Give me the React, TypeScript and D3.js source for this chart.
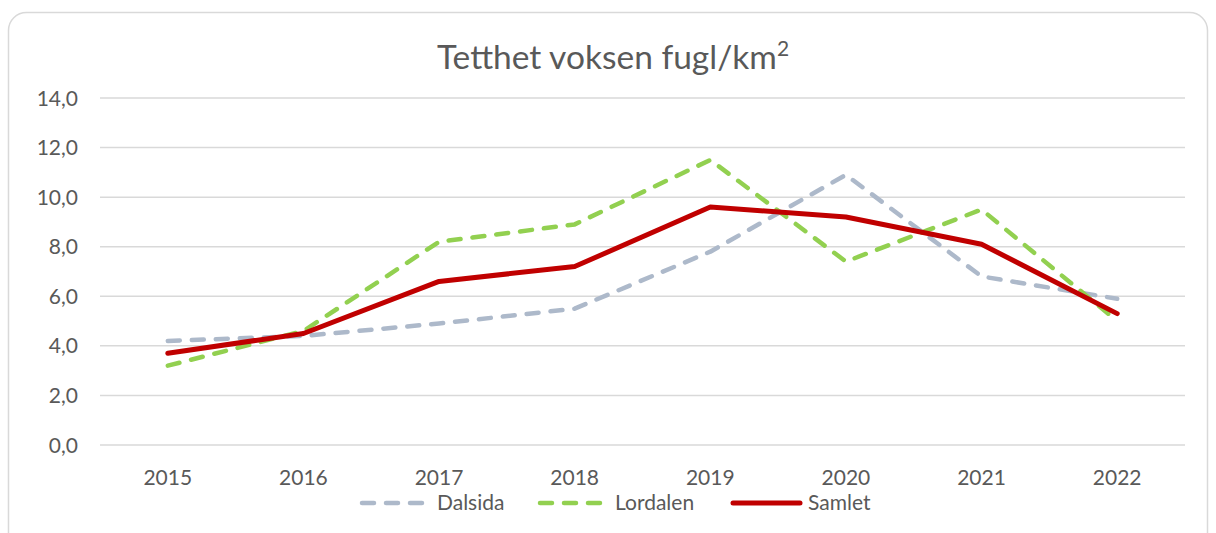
import * as d3 from "d3";
import { useEffect, useRef } from "react";

// data
const years = ["2015", "2016", "2017", "2018", "2019", "2020", "2021", "2022"];
const dalsida = [4.2, 4.4, 4.9, 5.5, 7.8, 10.9, 6.8, 5.9];
const lordalen = [3.2, 4.6, 8.2, 8.9, 11.5, 7.4, 9.5, 5.0];
const samlet = [3.7, 4.5, 6.6, 7.2, 9.6, 9.2, 8.1, 5.3];
const yTicks = [0, 2, 4, 6, 8, 10, 12, 14];

const seriesList = [
  { name: "Dalsida", values: dalsida, color: "#adb9ca", dash: "12 12", width: 4.5 },
  { name: "Lordalen", values: lordalen, color: "#92d050", dash: "12 12", width: 4.5 },
  { name: "Samlet", values: samlet, color: "#c00000", dash: null, width: 5 },
];

const W = 1216;
const H = 533;
const FONT = "Lato, 'Open Sans', sans-serif";
const TEXT = "#595959";

export default function App() {
  const svgRef = useRef<SVGSVGElement>(null);

  useEffect(() => {
    if (!svgRef.current) return;
    const svg = d3.select(svgRef.current);
    svg.selectAll("*").remove();

    // chart frame
    svg
      .append("rect")
      .attr("x", 8.5)
      .attr("y", 12.5)
      .attr("width", 1199)
      .attr("height", 540)
      .attr("rx", 18)
      .attr("fill", "#fff")
      .attr("stroke", "#d9d9d9")
      .attr("stroke-width", 1.5);

    svg
      .append("text")
      .attr("x", 613)
      .attr("y", 69)
      .attr("text-anchor", "middle")
      .attr("font-family", FONT)
      .attr("font-size", 33.5)
      .attr("fill", TEXT)
      .text("Tetthet voksen fugl/km")
      .append("tspan")
      .attr("font-size", 21)
      .attr("dy", -13)
      .text("2");

    const x = d3.scaleBand().domain(years).range([100, 1185]);
    const y = d3.scaleLinear().domain([0, 14]).range([445, 98]);

    // gridlines
    svg
      .append("g")
      .selectAll("line")
      .data(yTicks)
      .enter()
      .append("line")
      .attr("x1", 100)
      .attr("x2", 1185)
      .attr("y1", (d) => y(d))
      .attr("y2", (d) => y(d))
      .attr("stroke", "#d9d9d9")
      .attr("stroke-width", 1.5);

    // y tick labels
    svg
      .append("g")
      .selectAll("text")
      .data(yTicks)
      .enter()
      .append("text")
      .attr("x", 78)
      .attr("y", (d) => y(d) + 7.5)
      .attr("text-anchor", "end")
      .attr("font-family", FONT)
      .attr("font-size", 21)
      .attr("fill", TEXT)
      .text((d) => d.toFixed(1).replace(".", ","));

    // x tick labels
    svg
      .append("g")
      .selectAll("text")
      .data(years)
      .enter()
      .append("text")
      .attr("x", (d) => x(d)! + x.bandwidth() / 2)
      .attr("y", 485)
      .attr("text-anchor", "middle")
      .attr("font-family", FONT)
      .attr("font-size", 21)
      .attr("fill", TEXT)
      .text((d) => d);

    const line = d3
      .line<number>()
      .x((_, i) => x(years[i])! + x.bandwidth() / 2)
      .y((d) => y(d));

    seriesList.forEach((s) => {
      svg
        .append("path")
        .attr("d", line(s.values))
        .attr("fill", "none")
        .attr("stroke", s.color)
        .attr("stroke-width", s.width)
        .attr("stroke-linecap", "round")
        .attr("stroke-linejoin", "round")
        .attr("stroke-dasharray", s.dash);
    });

    // legend
    const legendPos = [
      { x1: 362, x2: 422, tx: 437 },
      { x1: 540, x2: 600, tx: 615 },
      { x1: 733, x2: 800, tx: 808 },
    ];
    seriesList.forEach((s, i) => {
      const p = legendPos[i];
      svg
        .append("line")
        .attr("x1", p.x1)
        .attr("x2", p.x2)
        .attr("y1", 503)
        .attr("y2", 503)
        .attr("stroke", s.color)
        .attr("stroke-width", s.width)
        .attr("stroke-linecap", "round")
        .attr("stroke-dasharray", s.dash);
      svg
        .append("text")
        .attr("x", p.tx)
        .attr("y", 510)
        .attr("font-family", FONT)
        .attr("font-size", 21)
        .attr("fill", TEXT)
        .text(s.name);
    });
  }, []);

  return (
    <svg
      ref={svgRef}
      width={W}
      height={H}
      style={{ position: "absolute", left: 0, top: 0, background: "#fff" }}
    />
  );
}
